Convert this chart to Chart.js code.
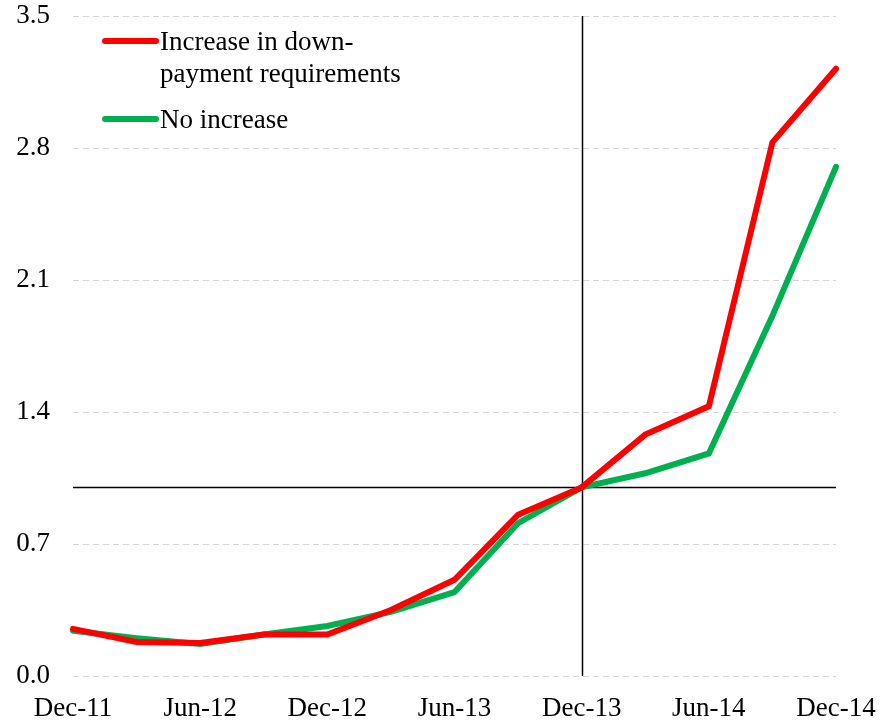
<!DOCTYPE html>
<html>
<head>
<meta charset="utf-8">
<script src="https://cdn.jsdelivr.net/npm/chart.js@4/dist/chart.umd.min.js"></script>
<style>
  html, body { margin: 0; padding: 0; background: #ffffff; }
  #wrap { position: relative; width: 888px; height: 723px; }
</style>
</head>
<body>
<div id="wrap"><canvas id="c" width="888" height="723"></canvas></div>
<script>
// Quarterly categories, Dec-11 .. Dec-14
const categories = ['Dec-11','Mar-12','Jun-12','Sep-12','Dec-12','Mar-13','Jun-13','Sep-13','Dec-13','Mar-14','Jun-14','Sep-14','Dec-14'];
// Series values
const increaseValues = [0.25, 0.18, 0.175, 0.22, 0.22, 0.35, 0.51, 0.855, 1.0, 1.28, 1.43, 2.83, 3.22];
const noIncreaseValues = [0.24, 0.20, 0.17, 0.22, 0.265, 0.34, 0.445, 0.81, 1.0, 1.075, 1.18, 1.91, 2.70];
// Legend text
const increaseLabel = ['Increase in down-', 'payment requirements'];
const noIncreaseLabel = ['No increase'];
// Y axis ticks
const yTicks = [0.0, 0.7, 1.4, 2.1, 2.8, 3.5];
// Reference lines
const refValue = 1.0;
const refCategory = 'Dec-13';

const FONT = '"Liberation Serif", "Times New Roman", serif';

const refLinesPlugin = {
  id: 'refLines',
  beforeDatasetsDraw(chart) {
    const { ctx, chartArea, scales } = chart;
    const y = scales.y.getPixelForValue(refValue);
    const x = scales.x.getPixelForValue(categories.indexOf(refCategory));
    ctx.save();
    ctx.strokeStyle = '#000000';
    ctx.lineWidth = 1.5;
    ctx.beginPath();
    ctx.moveTo(chartArea.left, Math.round(y) + 0.5);
    ctx.lineTo(chartArea.right, Math.round(y) + 0.5);
    ctx.moveTo(Math.round(x) + 0.5, chartArea.top);
    ctx.lineTo(Math.round(x) + 0.5, chartArea.bottom);
    ctx.stroke();
    ctx.restore();
  }
};

const legendPlugin = {
  id: 'insideLegend',
  afterDraw(chart) {
    const { ctx, chartArea } = chart;
    const items = [
      { color: chart.data.datasets[0].borderColor, lines: increaseLabel, y: chartArea.top + 25 },
      { color: chart.data.datasets[1].borderColor, lines: noIncreaseLabel, y: chartArea.top + 103 }
    ];
    ctx.save();
    ctx.font = '27px ' + FONT;
    ctx.textBaseline = 'alphabetic';
    ctx.textAlign = 'left';
    items.forEach(it => {
      ctx.strokeStyle = it.color;
      ctx.lineWidth = 6;
      ctx.lineCap = 'round';
      ctx.beginPath();
      ctx.moveTo(chartArea.left + 32, it.y);
      ctx.lineTo(chartArea.left + 83, it.y);
      ctx.stroke();
      ctx.fillStyle = '#000000';
      it.lines.forEach((t, i) => {
        ctx.fillText(t, chartArea.left + 87, it.y + 9 + i * 32);
      });
    });
    ctx.restore();
  }
};

new Chart(document.getElementById('c'), {
  type: 'line',
  data: {
    labels: categories,
    datasets: [
      {
        label: increaseLabel.join(' '),
        data: increaseValues,
        borderColor: '#ff0000',
        backgroundColor: '#ff0000',
        borderWidth: 6,
        pointRadius: 0,
        tension: 0,
        borderCapStyle: 'round',
        borderJoinStyle: 'miter'
      },
      {
        label: noIncreaseLabel.join(' '),
        data: noIncreaseValues,
        borderColor: '#00b050',
        backgroundColor: '#00b050',
        borderWidth: 6,
        pointRadius: 0,
        tension: 0,
        borderCapStyle: 'round',
        borderJoinStyle: 'miter'
      }
    ]
  },
  options: {
    responsive: false,
    animation: false,
    devicePixelRatio: 1,
    layout: { padding: { left: 0, right: 52, top: 16, bottom: 0 } },
    plugins: {
      legend: { display: false },
      tooltip: { enabled: false },
      title: { display: false }
    },
    scales: {
      x: {
        type: 'category',
        offset: false,
        grid: { display: false, drawTicks: false },
        border: { display: false },
        afterFit(scale) { scale.height = 47; scale.paddingRight = 0; },
        ticks: {
          autoSkip: false,
          maxRotation: 0,
          minRotation: 0,
          padding: 17,
          color: '#000000',
          font: { family: FONT, size: 27 },
          callback(value, index) { return index % 2 === 0 ? categories[index] : ''; }
        }
      },
      y: {
        min: yTicks[0],
        max: yTicks[yTicks.length - 1],
        afterBuildTicks(scale) { scale.ticks = yTicks.map(v => ({ value: v })); },
        afterFit(scale) { scale.width = 73; scale.paddingTop = 0; scale.paddingBottom = 0; },
        grid: {
          color: '#d6d6d6',
          lineWidth: 1,
          drawTicks: false
        },
        border: { display: false, dash: [6, 4] },
        ticks: {
          padding: 23,
          color: '#000000',
          font: { family: FONT, size: 27 },
          callback(value) { return Number(value).toFixed(1); }
        }
      }
    }
  },
  plugins: [refLinesPlugin, legendPlugin]
});
</script>
</body>
</html>
